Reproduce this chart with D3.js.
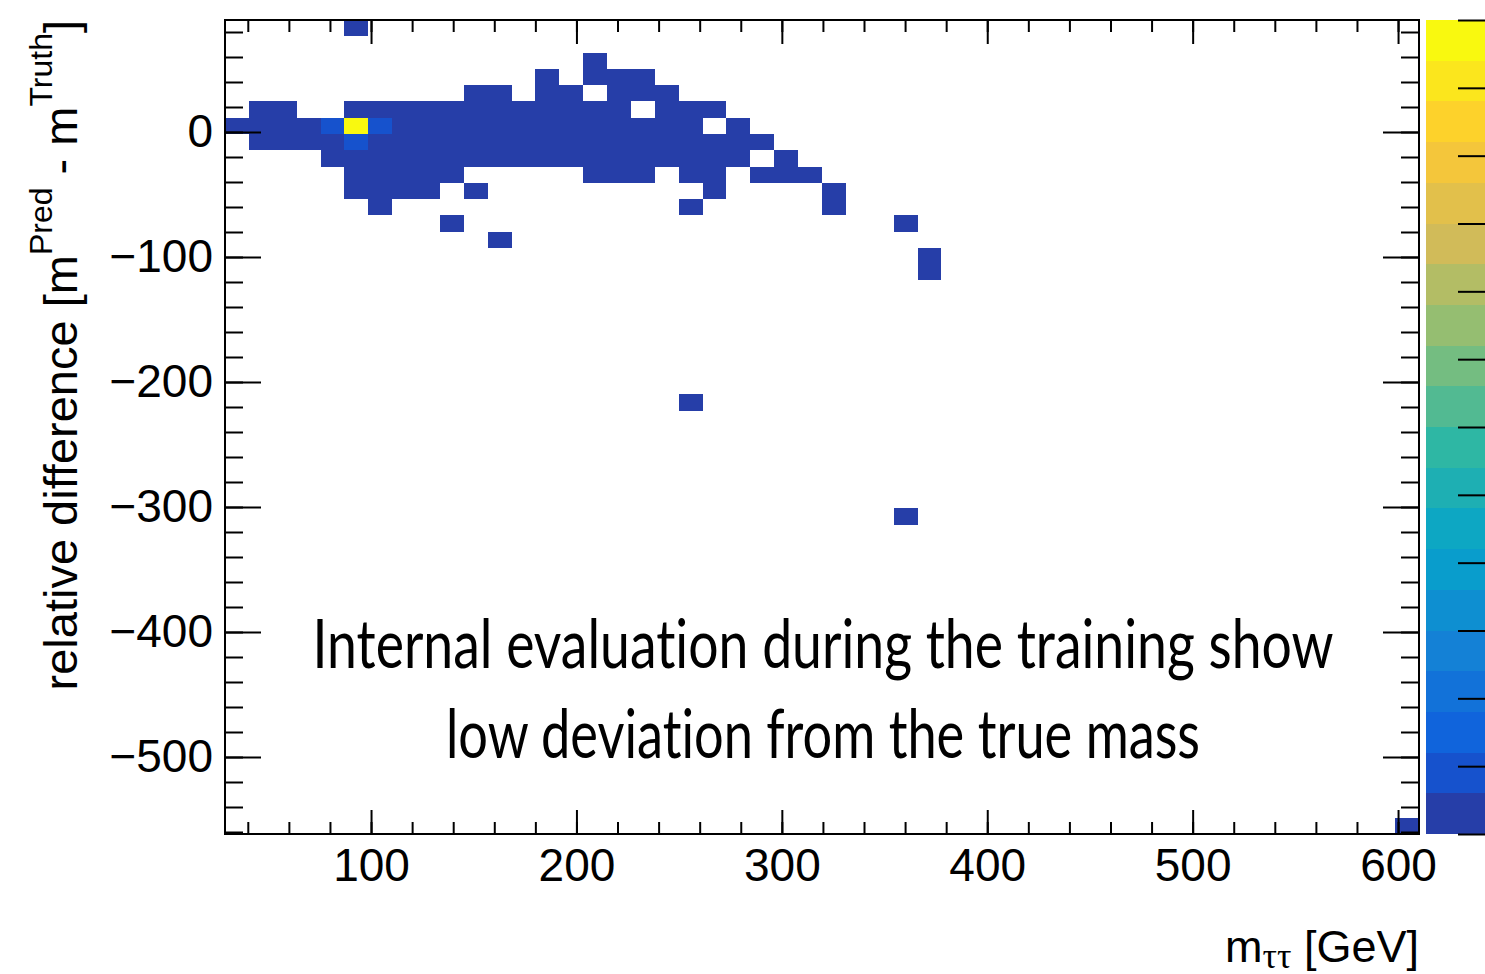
<!DOCTYPE html>
<html>
<head>
<meta charset="utf-8">
<script src="https://cdn.jsdelivr.net/npm/d3@7"></script>
<style>
  body { margin: 0; background: #fff; }
  svg { display: block; }
  .ax text { font-family: "Liberation Sans", Arial, Helvetica, sans-serif; font-size: 46px; fill: #000; }
  .ax line { stroke: #000; stroke-width: 2; }
  .ax path.domain { display: none; }
  .title { font-family: "Liberation Sans", Arial, Helvetica, sans-serif; fill: #000; white-space: pre; }
</style>
</head>
<body>
<svg id="chart" width="1485" height="974"></svg>
<script>
// ------------------------------------------------------------------
//  2D histogram: relative difference vs m_tautau (ROOT style, COLZ)
// ------------------------------------------------------------------

// binning of the histogram, 50 x 50 bins
var massLow = 28.9, massHigh = 610.2, nMassBins = 50;
var diffLow = -561.6, diffHigh = 89.6, nDiffBins = 50;

// z range and number of colour contours
var zMax = 60, nContours = 20;

// filled bins, one entry per row of relative difference (bin centres)
var rowDiff = [83.1, 57.0, 44.0, 31.0, 18.0, 4.9, -8.1, -21.1, -34.1, -47.2,
               -60.2, -73.2, -86.2, -99.3, -112.3, -216.5, -307.6, -555.0];

var rowMass = [
  [92.8],
  [209.1],
  [185.9, 209.1, 220.7, 232.4],
  [151.0, 162.6, 185.9, 197.5, 220.7, 232.4, 244.0],
  [46.3, 58.0, 92.8, 104.5, 116.1, 127.7, 139.3, 151.0, 162.6, 174.2, 185.9, 197.5, 209.1, 220.7, 244.0, 255.6, 267.2],
  [34.7, 46.3, 58.0, 69.6, 81.2, 92.8, 104.5, 116.1, 127.7, 139.3, 151.0, 162.6, 174.2, 185.9, 197.5, 209.1, 220.7, 232.4, 244.0, 255.6, 278.9],
  [46.3, 58.0, 69.6, 81.2, 92.8, 104.5, 116.1, 127.7, 139.3, 151.0, 162.6, 174.2, 185.9, 197.5, 209.1, 220.7, 232.4, 244.0, 255.6, 267.2, 278.9, 290.5],
  [81.2, 92.8, 104.5, 116.1, 127.7, 139.3, 151.0, 162.6, 174.2, 185.9, 197.5, 209.1, 220.7, 232.4, 244.0, 255.6, 267.2, 278.9, 302.1],
  [92.8, 104.5, 116.1, 127.7, 139.3, 209.1, 220.7, 232.4, 255.6, 267.2, 290.5, 302.1, 313.7],
  [92.8, 104.5, 116.1, 127.7, 151.0, 267.2, 325.4],
  [104.5, 255.6, 325.4],
  [139.3, 360.2],
  [162.6],
  [371.9],
  [371.9],
  [255.6],
  [360.2],
  [604.4]
];

var rowCount = [
  [1],
  [1],
  [1, 1, 1, 1],
  [1, 1, 1, 1, 1, 1, 1],
  [1, 1, 2, 2, 2, 1, 1, 1, 1, 1, 1, 1, 1, 1, 1, 1, 1],
  [1, 2, 2, 2, 4, 60, 5, 2, 2, 2, 2, 1, 1, 1, 1, 1, 1, 1, 1, 1, 1],
  [1, 1, 2, 2, 4, 2, 2, 2, 2, 1, 1, 1, 1, 1, 1, 1, 1, 1, 1, 1, 1, 1],
  [2, 2, 2, 2, 1, 1, 1, 1, 1, 1, 1, 1, 1, 1, 1, 1, 1, 1, 1],
  [1, 1, 1, 1, 1, 1, 1, 1, 1, 1, 1, 1, 1],
  [1, 1, 1, 1, 1, 1, 1],
  [1, 1, 1],
  [1, 1],
  [1],
  [1],
  [1],
  [1],
  [1],
  [1]
];

// axis ticks
var xMajorTicks = [100, 200, 300, 400, 500, 600];
var yMajorTicks = [-500, -400, -300, -200, -100, 0];
var zTicks = [0, 5, 10, 15, 20, 25, 30, 35, 40, 45, 50, 55, 60];

// texts
var noteLines = ["Internal evaluation during the training show", "low deviation from the true mass"];

// kBird palette (ROOT)
var birdStops = [0.0000, 0.1250, 0.2500, 0.3750, 0.5000, 0.6250, 0.7500, 0.8750, 1.0000];
var birdRed   = [0.2082, 0.0592, 0.0780, 0.0232, 0.1802, 0.5301, 0.8186, 0.9956, 0.9764];
var birdGreen = [0.1664, 0.3599, 0.5041, 0.6419, 0.7178, 0.7492, 0.7328, 0.7862, 0.9832];
var birdBlue  = [0.5293, 0.8684, 0.8385, 0.7914, 0.6425, 0.4662, 0.3499, 0.1968, 0.0539];

// ------------------------------------------------------------------
var frame = { left: 225, top: 20, right: 1419, bottom: 834 };
var svg = d3.select("#chart");

var x = d3.scaleLinear().domain([massLow, massHigh]).range([frame.left, frame.right]);
var y = d3.scaleLinear().domain([diffLow, diffHigh]).range([frame.bottom, frame.top]);
var z = d3.scaleLinear().domain([0, zMax]).range([frame.bottom, frame.top]);

var massWidth = (massHigh - massLow) / nMassBins;
var diffWidth = (diffHigh - diffLow) / nDiffBins;

// 255 colour gradient, same way ROOT builds it
var colorTable = [];
for (var g = 1; g < birdStops.length; g++) {
  var n = Math.floor(255 * birdStops[g]) - Math.floor(255 * birdStops[g - 1]);
  for (var c = 0; c < n; c++) {
    colorTable.push(d3.rgb(
      255 * (birdRed[g - 1] + c * (birdRed[g] - birdRed[g - 1]) / n),
      255 * (birdGreen[g - 1] + c * (birdGreen[g] - birdGreen[g - 1]) / n),
      255 * (birdBlue[g - 1] + c * (birdBlue[g] - birdBlue[g - 1]) / n)
    ).formatHex());
  }
}
function contourColor(k) {
  return colorTable[Math.floor((k + 0.99) * colorTable.length / nContours)];
}
function binColor(v) {
  var k = Math.min(nContours - 1, Math.floor(v / zMax * nContours));
  return contourColor(k);
}

// flatten rows into cells
var cells = [];
rowDiff.forEach(function (d, r) {
  rowMass[r].forEach(function (m, i) {
    cells.push({ mass: m, diff: d, count: rowCount[r][i] });
  });
});

// bins
svg.append("g").attr("shape-rendering", "crispEdges").selectAll("rect")
  .data(cells)
  .enter()
  .append("rect")
    .attr("x", function (d) {
      var ix = Math.floor((d.mass - massLow) / massWidth);
      return x(massLow + ix * massWidth);
    })
    .attr("y", function (d) {
      var iy = Math.floor((d.diff - diffLow) / diffWidth);
      return y(diffLow + (iy + 1) * diffWidth);
    })
    .attr("width", x(massLow + massWidth) - x(massLow))
    .attr("height", y(diffLow) - y(diffLow + diffWidth))
    .attr("fill", function (d) { return binColor(d.count); });

// palette
var pal = svg.append("g").attr("shape-rendering", "crispEdges");
pal.selectAll("rect")
  .data(d3.range(nContours))
  .enter()
  .append("rect")
    .attr("x", 1426)
    .attr("width", 70)
    .attr("y", function (k) { return z((k + 1) * zMax / nContours); })
    .attr("height", function (k) { return z(k * zMax / nContours) - z((k + 1) * zMax / nContours); })
    .attr("fill", function (k) { return contourColor(k); });

svg.append("g").attr("class", "ax")
  .attr("transform", "translate(1490,0)")
  .call(d3.axisRight(z).tickValues(zTicks).tickSizeInner(-32).tickSizeOuter(0).tickFormat(""));

// axes (ticks inside the frame on all sides)
var xMinor = d3.range(40, massHigh, 20);
var yMinor = d3.range(-560, diffHigh, 20);

svg.append("g").attr("class", "ax")
  .attr("transform", "translate(0," + frame.bottom + ")")
  .call(d3.axisBottom(x).tickValues(xMajorTicks).tickSizeInner(-24).tickSizeOuter(0).tickPadding(14).tickFormat(d3.format("d")));
svg.append("g").attr("class", "ax")
  .attr("transform", "translate(0," + frame.bottom + ")")
  .call(d3.axisBottom(x).tickValues(xMinor).tickSizeInner(-12).tickSizeOuter(0).tickFormat(""));
svg.append("g").attr("class", "ax")
  .attr("transform", "translate(0," + frame.top + ")")
  .call(d3.axisTop(x).tickValues(xMajorTicks).tickSizeInner(-24).tickSizeOuter(0).tickFormat(""));
svg.append("g").attr("class", "ax")
  .attr("transform", "translate(0," + frame.top + ")")
  .call(d3.axisTop(x).tickValues(xMinor).tickSizeInner(-12).tickSizeOuter(0).tickFormat(""));

svg.append("g").attr("class", "ax")
  .attr("transform", "translate(" + frame.left + ",0)")
  .call(d3.axisLeft(y).tickValues(yMajorTicks).tickSizeInner(-36).tickSizeOuter(0).tickPadding(12).tickFormat(d3.format("d")));
svg.append("g").attr("class", "ax")
  .attr("transform", "translate(" + frame.left + ",0)")
  .call(d3.axisLeft(y).tickValues(yMinor).tickSizeInner(-18).tickSizeOuter(0).tickFormat(""));
svg.append("g").attr("class", "ax")
  .attr("transform", "translate(" + frame.right + ",0)")
  .call(d3.axisRight(y).tickValues(yMajorTicks).tickSizeInner(-36).tickSizeOuter(0).tickFormat(""));
svg.append("g").attr("class", "ax")
  .attr("transform", "translate(" + frame.right + ",0)")
  .call(d3.axisRight(y).tickValues(yMinor).tickSizeInner(-18).tickSizeOuter(0).tickFormat(""));

// frame
svg.append("rect")
  .attr("x", frame.left).attr("y", frame.top)
  .attr("width", frame.right - frame.left).attr("height", frame.bottom - frame.top)
  .attr("fill", "none").attr("stroke", "#000").attr("stroke-width", 2);

// x title
var xt = svg.append("text").attr("class", "title")
  .attr("x", frame.right).attr("y", 962)
  .attr("text-anchor", "end")
  .style("font-size", "45px");
xt.append("tspan").text("m");
xt.append("tspan").attr("dy", 6)
  .style("font-family", "'Liberation Serif', 'DejaVu Serif', serif").style("font-size", "36px").text("ττ");
xt.append("tspan").attr("dy", -6).text(" [GeV]");

// y title
var yt = svg.append("text").attr("class", "title")
  .attr("transform", "translate(77," + frame.top + ") rotate(-90)")
  .attr("text-anchor", "end")
  .style("font-size", "47px");
yt.append("tspan").text("relative difference [m");
yt.append("tspan").attr("dy", -25).style("font-size", "32px").text("Pred");
yt.append("tspan").attr("dy", 25).text(" - m");
yt.append("tspan").attr("dy", -25).style("font-size", "32px").text("Truth");
yt.append("tspan").attr("dy", 25).text("]");

// annotation
var noteY = [668, 758];
var noteLen = [1021, 754];
svg.selectAll("text.note")
  .data(noteLines)
  .enter()
  .append("text")
    .attr("class", "note")
    .attr("x", 823)
    .attr("y", function (d, i) { return noteY[i]; })
    .attr("text-anchor", "middle")
    .attr("textLength", function (d, i) { return noteLen[i]; })
    .attr("lengthAdjust", "spacingAndGlyphs")
    .style("font-family", "Lato, 'Open Sans', sans-serif")
    .style("font-variant-ligatures", "none")
    .style("font-size", "67px")
    .style("fill", "#000")
    .text(function (d) { return d; });
</script>
</body>
</html>
